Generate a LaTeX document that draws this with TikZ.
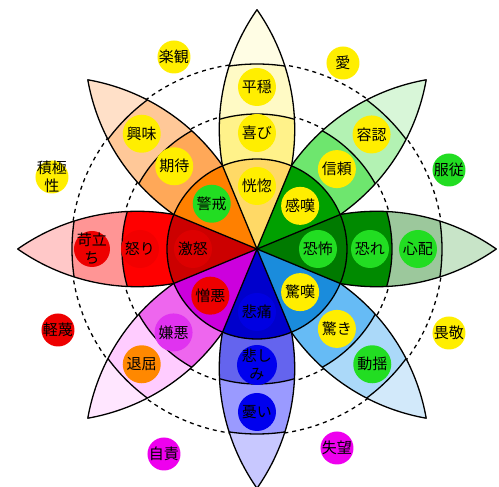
\documentclass[tikz,border=0pt]{standalone}
\usepackage{fontspec}
\newfontfamily\jp{Noto Sans CJK JP}
\definecolor{J1}{HTML}{FFD966}\definecolor{J2}{HTML}{FFF28A}\definecolor{J3}{HTML}{FFFAC5}\definecolor{J4}{HTML}{FFFDE4}
\definecolor{T1}{HTML}{00A000}\definecolor{T2}{HTML}{6EE66E}\definecolor{T3}{HTML}{B3F2B3}\definecolor{T4}{HTML}{D8F6D8}
\definecolor{F1}{HTML}{007A00}\definecolor{F2}{HTML}{008A00}\definecolor{F3}{HTML}{9CC89C}\definecolor{F4}{HTML}{C8E4C8}
\definecolor{U1}{HTML}{1A8CDC}\definecolor{U2}{HTML}{66BBF5}\definecolor{U3}{HTML}{ABD9F9}\definecolor{U4}{HTML}{D2E9FA}
\definecolor{S1}{HTML}{0000CC}\definecolor{S2}{HTML}{6464EE}\definecolor{S3}{HTML}{9A9AFF}\definecolor{S4}{HTML}{C8C8FF}
\definecolor{D1}{HTML}{CC00DD}\definecolor{D2}{HTML}{EE66EE}\definecolor{D3}{HTML}{FFCCFF}\definecolor{D4}{HTML}{FFE6FF}
\definecolor{R1}{HTML}{CC0000}\definecolor{R2}{HTML}{FF0000}\definecolor{R3}{HTML}{FF9595}\definecolor{R4}{HTML}{FFC8C8}
\definecolor{A1}{HTML}{FF8000}\definecolor{A2}{HTML}{FFA858}\definecolor{A3}{HTML}{FFC898}\definecolor{A4}{HTML}{FFE0C8}
\definecolor{cY}{HTML}{FFEE00}\definecolor{cG}{HTML}{22DD22}\definecolor{cR}{HTML}{EE0000}
\definecolor{cM}{HTML}{EE00EE}\definecolor{cB}{HTML}{0000EE}\definecolor{cO}{HTML}{FF8800}
\definecolor{cRR}{HTML}{DD0000}\definecolor{cRB}{HTML}{F20000}\definecolor{cBB}{HTML}{0000E2}
\definecolor{cMM}{HTML}{E033F0}
\newcommand\petal[5]{%
 \begin{scope}[rotate=#1]
  \begin{scope}
   \clip (0,0) arc[start angle=125,end angle=55,radius=208.6] arc[start angle=-55,end angle=-125,radius=208.6] -- cycle;
   \fill[#5] (0,0) circle (250);
   \fill[#4] (0,0) circle (185);
   \fill[#3] (0,0) circle (135);
   \draw[line width=1.3pt] (0,0) circle (185) (0,0) circle (135);
  \end{scope}
  \draw[outl] (0,0) arc[start angle=125,end angle=55,radius=208.6] arc[start angle=-55,end angle=-125,radius=208.6] -- cycle;
 \end{scope}}
\newcommand\sector[2]{%
 \fill[#2] (0,0) -- (#1-22.5:90) arc[start angle=#1-22.5,end angle=#1+22.5,radius=90] -- cycle;}
\newcommand\lbl[5]{% position, colour, radius, name, text
 \fill[#2] #1 circle (#3);
 \node[txt] (#4) at #1 {#5};}
\begin{document}
\begin{tikzpicture}[x=1pt,y=1pt,
  outl/.style={draw=black,line width=1.3pt,line join=round},
  txt/.style={inner sep=0pt,font=\jp\fontsize{15}{18}\selectfont,align=center,text=black},
  dsh/.style={line width=1.3pt,dash pattern=on 4pt off 4pt}]
\useasboundingbox (-257,-238) rectangle (242,249);
\draw[dsh] (0,0) circle (137);
\draw[dsh] (0,0) circle (186);
\petal{90}{J1}{J2}{J3}{J4}
\petal{45}{T1}{T2}{T3}{T4}
\petal{0}{F1}{F2}{F3}{F4}
\petal{-45}{U1}{U2}{U3}{U4}
\petal{-90}{S1}{S2}{S3}{S4}
\petal{-135}{D1}{D2}{D3}{D4}
\petal{180}{R1}{R2}{R3}{R4}
\petal{135}{A1}{A2}{A3}{A4}
\sector{90}{J1}\sector{45}{T1}\sector{0}{F1}\sector{-45}{U1}
\sector{-90}{S1}\sector{-135}{D1}\sector{180}{R1}\sector{135}{A1}
\draw[outl] (0,0) circle (90);
\foreach \a in {22.5,67.5,...,337.5} \draw[outl] (0,0) -- (\a:90);
% inner ring
\lbl{(90:63)}{cY}{19}{n1}{恍惚}
\lbl{(45:61)}{cY}{19}{n2}{感嘆}
\lbl{(0:61)}{cG}{19}{n3}{恐怖}
\lbl{(-45:61)}{cY}{19}{n4}{驚嘆}
\lbl{(-90:63)}{cBB}{19}{n5}{悲痛}
\lbl{(-135:66)}{cR}{19}{n6}{憎悪}
\lbl{(180:64)}{cRR}{19}{n7}{激怒}
\lbl{(135:64)}{cG}{19}{n8}{警戒}
% second ring
\lbl{(90:116)}{cY}{19}{m1}{喜び}
\lbl{(45:113)}{cY}{19}{m2}{信頼}
\lbl{(0:113)}{cG}{19}{m3}{恐れ}
\lbl{(-45:113)}{cY}{19}{m4}{驚き}
\lbl{(-90:116)}{cB}{20}{m5}{悲し\\み}
\lbl{(-135:118)}{cMM}{19}{m6}{嫌悪}
\lbl{(180:117)}{cRB}{19}{m7}{怒り}
\lbl{(135:117)}{cY}{19}{m8}{期待}
% third ring
\lbl{(90:162)}{cY}{19}{k1}{平穏}
\lbl{(45:162)}{cY}{19}{k2}{容認}
\lbl{(0:161)}{cG}{19}{k3}{心配}
\lbl{(-45:163)}{cG}{19}{k4}{動揺}
\lbl{(-90:163)}{cB}{19}{k5}{憂い}
\lbl{(-135:163)}{cO}{19}{k6}{退屈}
\lbl{(180:165)}{cR}{18}{k7}{苛立\\ち}
\lbl{(135:163)}{cY}{19}{k8}{興味}
% dyads
\lbl{(86,186)}{cY}{16.5}{o1}{愛}
\lbl{(192,79)}{cG}{16.5}{o2}{服従}
\lbl{(192,-84)}{cY}{16.5}{o3}{畏敬}
\lbl{(80,-199)}{cM}{16.5}{o4}{失望}
\lbl{(-93,-205)}{cM}{16.5}{o5}{自責}
\lbl{(-199,-81)}{cR}{16.5}{o6}{軽蔑}
\lbl{(-205,72)}{cY}{16.5}{o7}{積極\\性}
\lbl{(-83,192)}{cY}{16.5}{o8}{楽観}
\end{tikzpicture}
\end{document}
